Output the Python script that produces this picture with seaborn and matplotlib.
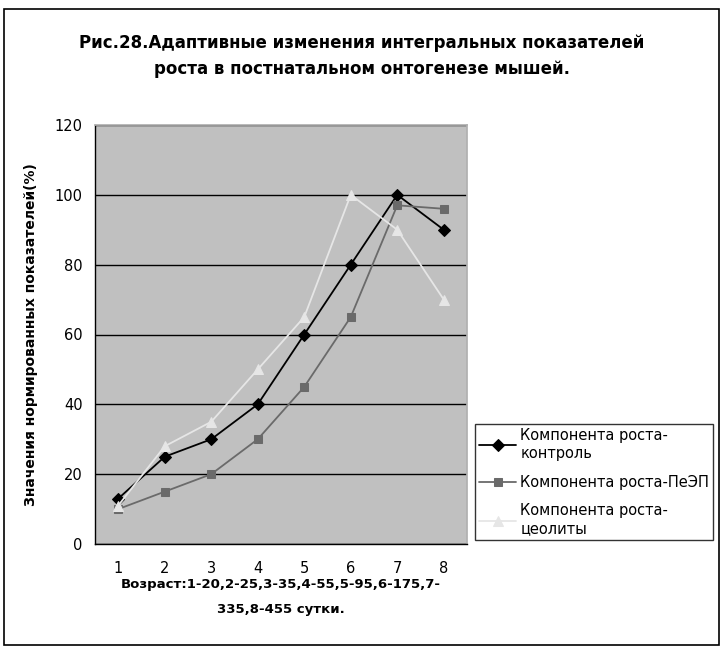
import matplotlib
matplotlib.use("Agg")
import matplotlib.pyplot as plt
import seaborn as sns
import pandas as pd
from matplotlib.patches import Rectangle

ages = [1, 2, 3, 4, 5, 6, 7, 8]
control = [13, 25, 30, 40, 60, 80, 100, 90]
peep = [10, 15, 20, 30, 45, 65, 97, 96]
zeolite = [11, 28, 35, 50, 65, 100, 90, 70]
labels = ["Компонента роста-\nконтроль", "Компонента роста-ПеЭП", "Компонента роста-\nцеолиты"]
y_ticks = [0, 20, 40, 60, 80, 100, 120]

sns.set_theme(style="white")
plt.rcParams['font.family'] = ['DejaVu Sans']
plt.rcParams['text.color'] = 'black'
plt.rcParams['axes.labelcolor'] = 'black'
plt.rcParams['xtick.color'] = 'black'
plt.rcParams['ytick.color'] = 'black'

fig = plt.figure(figsize=(7.23, 6.49), dpi=100)
ax = fig.add_axes([95/723, 1-544/649, (467-95)/723, (544-125)/649])
ax.set_facecolor("#c0c0c0")

series = [
    (control, labels[0], "black", "D", 6),
    (peep, labels[1], "#6a6a6a", "s", 6),
    (zeolite, labels[2], "#e6e6e6", "^", 7),
]
for vals, lab, col, mk, ms in series:
    df = pd.DataFrame({"x": ages, "y": vals})
    sns.lineplot(data=df, x="x", y="y", ax=ax, color=col, marker=mk, markersize=ms,
                 markeredgecolor=col, linewidth=1.3, label=lab)

ax.set_xlim(0.5, 8.5)
ax.set_ylim(0, 120)
ax.set_yticks(y_ticks)
ax.set_yticklabels([str(v) for v in y_ticks], fontsize=10.5)
ax.set_xticks(ages)
ax.set_xticklabels([str(a) for a in ages], fontsize=10.5)
ax.set_xticks([a + 0.5 for a in [0] + ages], minor=True)
ax.tick_params(axis="x", which="major", length=0, pad=12)
ax.tick_params(axis="x", which="minor", length=5, width=1, color="black", direction="out")
ax.tick_params(axis="y", which="major", length=5, width=1, color="black", direction="out", pad=4)
ax.yaxis.grid(True, color="black", linewidth=1)
ax.xaxis.grid(False)
for s in ["top", "right"]:
    ax.spines[s].set_visible(True)
    ax.spines[s].set_color("#b0b0b0")
ax.spines["left"].set_color("black")
ax.spines["bottom"].set_color("black")
ax.spines["left"].set_linewidth(1)
ax.spines["bottom"].set_linewidth(1)

ax.set_xlabel("Возраст:1-20,2-25,3-35,4-55,5-95,6-175,7-\n335,8-455 сутки.", fontsize=9.5,
              fontweight="bold", labelpad=2, linespacing=2.2, color="black")
ax.set_ylabel("Значения нормированных показателей(%)", fontsize=10, fontweight="bold", labelpad=12,
              color="black")

fig.text(0.5, 1-56/649, "Рис.28.Адаптивные изменения интегральных показателей\nроста в постнатальном онтогенезе мышей.",
         ha="center", va="center", fontsize=12, fontweight="bold", linespacing=1.6, color="black")

leg = ax.legend(loc="upper left", bbox_to_anchor=(475/723, 1-424/649), bbox_transform=fig.transFigure,
                frameon=True, fancybox=False, edgecolor="black", fontsize=10.5, handlelength=2.5,
                borderpad=0.3, labelspacing=0.95, handletextpad=0.3, borderaxespad=0)
leg.get_frame().set_linewidth(1)
for t in leg.get_texts():
    t.set_color("black")

fig.patches.append(Rectangle((4/723, 4/649), 715/723, 1-13/649, transform=fig.transFigure,
                             fill=False, edgecolor="black", linewidth=1.2))

fig.savefig("out.png", dpi=100, facecolor="white")
